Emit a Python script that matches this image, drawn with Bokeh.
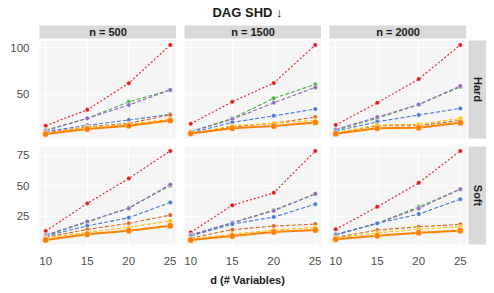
import math
from bokeh.plotting import figure
from bokeh.layouts import column, row
from bokeh.models import Range1d, FixedTicker, Label
from bokeh.embed import file_html
from bokeh.resources import INLINE

# ---------------- data ----------------
D_VALUES = [10, 15, 20, 25]
N_VALUES = [500, 1500, 2000]
SETTINGS = ["Hard", "Soft"]
X_TICKS = [10, 15, 20, 25]
Y_TICKS_HARD = [50, 100]
Y_TICKS_SOFT = [25, 50, 75]

TITLE = "DAG SHD \u2193"
X_LABEL = "d (# Variables)"

# values per n (500, 1500, 2000), each over d = 10, 15, 20, 25
RED_HARD = {500: [16.4, 33.5, 62.0, 103.0], 1500: [18.5, 42.0, 62.2, 103.0], 2000: [17.2, 41.0, 66.5, 103.0]}
GREEN_HARD = {500: [11.8, 24.3, 42.0, 54.7], 1500: [10.0, 24.3, 45.8, 60.8], 2000: [11.8, 24.3, 39.0, 58.0]}
PURPLE_HARD = {500: [11.0, 24.3, 38.6, 54.7], 1500: [10.0, 23.3, 41.0, 57.5], 2000: [12.5, 25.7, 39.3, 59.0]}
BLUE_HARD = {500: [10.0, 17.0, 22.5, 28.6], 1500: [8.6, 20.0, 27.0, 34.3], 2000: [10.7, 20.7, 27.9, 35.0]}
BROWN_HARD = {500: [8.6, 15.3, 19.0, 28.0], 1500: [7.5, 15.3, 19.0, 25.7], 2000: [8.2, 16.4, 16.4, 22.2]}
YELLOW_HARD = {500: [8.0, 14.6, 18.0, 23.3], 1500: [7.5, 16.4, 19.0, 22.2], 2000: [8.6, 17.2, 18.0, 24.3]}
ORANGE_HARD = {500: [7.5, 12.9, 16.4, 22.0], 1500: [8.2, 13.6, 16.0, 20.0], 2000: [7.9, 13.6, 14.3, 19.6]}

RED_SOFT = {500: [12.7, 35.4, 55.9, 78.5], 1500: [11.6, 33.8, 44.1, 78.5], 2000: [14.1, 32.6, 52.3, 78.5]}
GREEN_SOFT = {500: [9.0, 20.0, 31.8, 50.0], 1500: [9.4, 19.5, 30.0, 43.0], 2000: [10.0, 19.0, 32.6, 47.0]}
PURPLE_SOFT = {500: [9.4, 20.6, 31.3, 51.0], 1500: [9.4, 19.5, 29.3, 43.3], 2000: [10.0, 19.0, 31.3, 47.1]}
BLUE_SOFT = {500: [8.6, 17.0, 23.6, 36.2], 1500: [8.6, 18.4, 24.2, 34.8], 2000: [9.4, 19.0, 26.6, 38.9]}
BROWN_SOFT = {500: [7.5, 14.0, 19.0, 25.8], 1500: [7.0, 13.8, 16.8, 18.4], 2000: [7.5, 13.5, 16.2, 18.2]}
YELLOW_SOFT = {500: [7.0, 11.6, 15.7, 21.1], 1500: [6.0, 10.2, 13.5, 15.7], 2000: [7.0, 11.3, 14.1, 16.2]}
ORANGE_SOFT = {500: [5.3, 10.0, 13.0, 17.0], 1500: [5.3, 8.6, 11.9, 13.5], 2000: [5.9, 8.8, 11.3, 13.0]}

DATA = {
    "Hard": [RED_HARD, GREEN_HARD, PURPLE_HARD, BLUE_HARD, BROWN_HARD, YELLOW_HARD, ORANGE_HARD],
    "Soft": [RED_SOFT, GREEN_SOFT, PURPLE_SOFT, BLUE_SOFT, BROWN_SOFT, YELLOW_SOFT, ORANGE_SOFT],
}

# ---------------- styles ----------------
STYLES = [
    dict(color="#E41A1C", dash="2 2", width=1.1, size=4.5),
    dict(color="#4DAF4A", dash="4 2", width=1.1, size=4.5),
    dict(color="#9467BD", dash="4 2", width=1.1, size=4.5),
    dict(color="#4878CF", dash="4 2", width=1.1, size=4.5),
    dict(color="#D9661F", dash="4 2", width=1.1, size=4.5),
    dict(color="#FFC000", dash="4 2", width=1.1, size=4.5),
    dict(color="#FF8000", dash="solid", width=2.0, size=6.5),
]

FONT = "Liberation Sans"
PANEL_BG = "#F5F5F5"
STRIP_BG = "#D9D9D9"
PW, PH = 137, 98
LEFT = 39


def expanded(vals, frac=0.05):
    lo, hi = min(vals), max(vals)
    pad = (hi - lo) * frac
    return lo - pad, hi + pad


XR = expanded(D_VALUES)
YR = {}
for s in SETTINGS:
    allv = [v for ser in DATA[s] for n in N_VALUES for v in ser[n]]
    YR[s] = expanded(allv)
YT = {"Hard": Y_TICKS_HARD, "Soft": Y_TICKS_SOFT}


def panel(setting, n, ci, ri):
    p = figure(
        frame_width=PW, frame_height=PH,
        x_range=Range1d(*XR), y_range=Range1d(*YR[setting]),
        output_backend="svg", toolbar_location=None,
        x_axis_location="below" if ri == 1 else None,
        y_axis_location="left" if ci == 0 else None,
        min_border_left=LEFT if ci == 0 else 8,
        min_border_right=2 if ci == 2 else 0,
        min_border_top=0,
        min_border_bottom=8 if ri == 0 else 26,
        background_fill_color=PANEL_BG, border_fill_color="white",
        outline_line_color=None,
    )
    p.xgrid.ticker = FixedTicker(ticks=X_TICKS)
    p.ygrid.ticker = FixedTicker(ticks=YT[setting])
    p.grid.grid_line_color = "white"
    p.grid.grid_line_width = 1
    for ax in p.axis:
        ax.axis_line_color = None
        ax.major_tick_line_color = None
        ax.minor_tick_line_color = None
        ax.major_tick_out = 0
        ax.major_tick_in = 0
        ax.minor_tick_out = 0
        ax.minor_tick_in = 0
        ax.major_label_text_font = FONT
        ax.major_label_text_font_size = "11.5px"
        ax.major_label_text_color = "#4D4D4D"
        ax.major_label_standoff = 10
    if ri == 1:
        p.xaxis.ticker = FixedTicker(ticks=X_TICKS)
        p.xaxis.major_label_standoff = 12
    if ci == 0:
        p.yaxis.ticker = FixedTicker(ticks=YT[setting])
    for ser, st in zip(DATA[setting], STYLES):
        ys = ser[n]
        p.line(D_VALUES, ys, line_color=st["color"], line_width=st["width"], line_dash=st["dash"])
        p.scatter(D_VALUES, ys, size=st["size"], fill_color=st["color"], line_color="white", line_width=0.5)
    return p


def text_box(text, w, h, left=0, right=0, bottom=0, bg=STRIP_BG, angle=0.0, size="11px",
             y=0.5, x=0.5, color="#1A1A1A"):
    p = figure(
        frame_width=w, frame_height=h,
        x_range=Range1d(0, 1), y_range=Range1d(0, 1),
        x_axis_location=None, y_axis_location=None,
        output_backend="svg", toolbar_location=None,
        min_border_left=left, min_border_right=right, min_border_top=0, min_border_bottom=bottom,
        background_fill_color=bg, border_fill_color="white", outline_line_color=None,
    )
    p.grid.visible = False
    p.add_layout(Label(x=x, y=y, text=text, text_align="center", text_baseline="middle",
                       angle=angle, text_font=FONT, text_font_style="bold",
                       text_font_size=size, text_color=color))
    return p


TOTAL_W = LEFT + PW + 8 + PW + 8 + PW + 2 + 18

title_fig = text_box(TITLE, TOTAL_W, 25, bg="white", size="13px", y=0.52, x=247 / TOTAL_W)

strips = row(
    text_box("n = %d" % N_VALUES[0], PW, 13, left=LEFT, bottom=2),
    text_box("n = %d" % N_VALUES[1], PW, 13, left=8, bottom=2),
    text_box("n = %d" % N_VALUES[2], PW, 13, left=8, bottom=2),
    spacing=0,
)

rows = []
for ri, s in enumerate(SETTINGS):
    figs = [panel(s, n, ci, ri) for ci, n in enumerate(N_VALUES)]
    figs.append(text_box(s, 18, PH, bottom=8 if ri == 0 else 26, angle=-math.pi / 2))
    rows.append(row(*figs, spacing=0))

xlabel_fig = text_box(X_LABEL, TOTAL_W, 17, bg="white", size="11px", y=0.47, x=247 / TOTAL_W)

layout = column(title_fig, strips, rows[0], rows[1], xlabel_fig, spacing=0)

open("out.html", "w").write(file_html(layout, INLINE))
